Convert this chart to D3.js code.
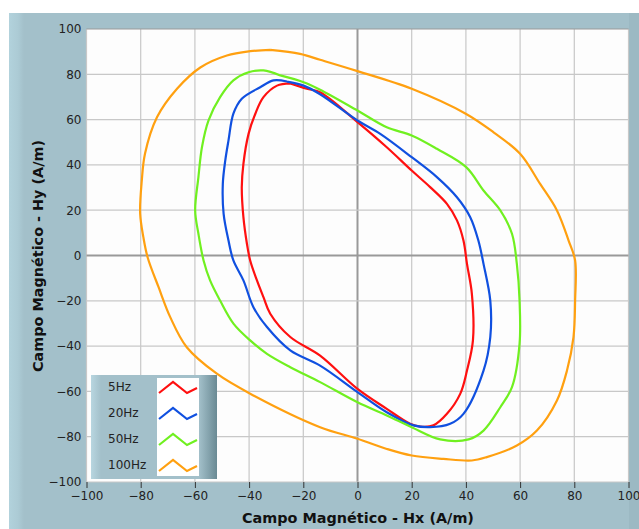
<!DOCTYPE html>
<html><head><meta charset="utf-8">
<script src="https://cdn.jsdelivr.net/npm/d3@7"></script>
<style>html,body{margin:0;padding:0;background:#fff;}svg{display:block;}</style>
</head><body><svg id="c" width="639" height="529"></svg>
<script>
const seriesNames = ["5Hz","20Hz","50Hz","100Hz"];
const seriesColors = ["#ff1010","#1050e0","#70f020","#ffa010"];
const xTicks = [-100,-80,-60,-40,-20,0,20,40,60,80,100];
const yTicks = [-100,-80,-60,-40,-20,0,20,40,60,80,100];
const loop5Hz = [[-24.8,76],[-29.7,75],[-34.7,69.9],[-37.7,62.6],[-40.2,53.7],[-42.1,40.5],[-42.7,30.2],[-42.1,16.9],[-40.8,5.2],[-39.6,-2.2],[-37.1,-11],[-34.7,-18.4],[-32.2,-25.7],[-24.8,-36],[-13.8,-44.2],[0,-58.9],[10.8,-67.7],[19.4,-74.3],[23.1,-75.5],[28,-75],[33,-69.9],[37.9,-61.1],[40.4,-50.8],[42.6,-37.5],[42.2,-16.9],[40.4,-3.7],[39.1,6.6],[36.7,15.5],[33,22.8],[26.8,30.2],[20,37.5],[10.8,47.8],[0,58.9],[-13.8,72.1],[-18.7,73.6],[-24.8,76]];
const loop20Hz = [[-26,76.8],[-31,77.3],[-35.9,74.3],[-42.7,69.2],[-45.8,62.6],[-47.6,50.8],[-48.8,41.9],[-49.7,31.6],[-49.4,18.4],[-47.6,6.6],[-45.8,-2.2],[-42.1,-11],[-38.4,-22.8],[-33.4,-31.6],[-24.8,-41.9],[-13.8,-48.6],[0,-60.3],[10.8,-69.2],[20.7,-75],[26.8,-75.8],[34.2,-74.3],[39.1,-69.9],[46.5,-50.8],[49,-36],[49,-19.9],[46.5,-3.7],[44.6,6.6],[41.6,16.9],[36.7,25.7],[29.3,34.6],[20,43.4],[8.4,53.7],[0,59.6],[-13.8,71.2],[-19.9,75],[-26,76.8]];
const loop50Hz = [[-28.5,79.5],[-34.7,81.7],[-40.2,80.9],[-45.8,77.3],[-50.7,69.9],[-55,59.6],[-57.4,47.8],[-58.7,34.6],[-59.9,19.9],[-58.7,9.6],[-56.8,-2.2],[-54.4,-11],[-50.7,-19.9],[-45.7,-30.2],[-39.6,-37.5],[-33.4,-43.4],[-24.8,-49.3],[-13.8,-55.9],[0,-64.8],[10.8,-70.6],[20,-75.8],[30.5,-81.2],[41,-81.2],[46.5,-77.3],[52.7,-67],[57,-58.1],[59.8,-39],[59.8,-19.9],[58.8,-3.7],[57,9.6],[52.7,19.9],[46.5,28.7],[40.1,39],[29.3,47.1],[20,53],[10.8,56.6],[0,64],[-13.8,73.2],[-19.9,76.5],[-28.5,79.5]];
const loop100Hz = [[-32.2,90.8],[-39.6,90.2],[-48.2,88.3],[-58,83],[-66.6,73.6],[-74,61],[-78.4,45],[-79.6,33],[-80.2,18.5],[-79,8],[-77.4,-1],[-73.4,-14],[-69.1,-27.2],[-63,-40.5],[-51.9,-52.2],[-39.6,-61],[-13.8,-75.8],[0,-80.9],[10.8,-85.4],[20,-88.3],[31.7,-89.8],[42.2,-90.5],[47.7,-89],[58.8,-83.9],[66.2,-77.3],[73.6,-64],[77.3,-50.8],[79.7,-36],[80.3,-19.9],[80.3,-2.2],[77.9,6.6],[73.6,19.9],[67.4,31.6],[60,44.9],[50.2,54.4],[40.1,62.5],[20,73.6],[0,81.4],[-13.8,86.4],[-21.2,89],[-32.2,90.8]];
const loops = [loop5Hz, loop20Hz, loop50Hz, loop100Hz];

const FONT = "'DejaVu Sans', Verdana, sans-serif";
const svg = d3.select("#c");
const defs = svg.append("defs");
const lg = defs.append("linearGradient").attr("id","leftStrip").attr("x1","0").attr("x2","1");
lg.append("stop").attr("offset","0").attr("stop-color","#b2d2dc");
lg.append("stop").attr("offset","0.6").attr("stop-color","#accbd5");
lg.append("stop").attr("offset","1").attr("stop-color","#a3c0ca");
const lgR = defs.append("linearGradient").attr("id","legR").attr("x1","0").attr("x2","1");
lgR.append("stop").attr("offset","0").attr("stop-color","#a3c0ca");
lgR.append("stop").attr("offset","1").attr("stop-color","#6a8a94");
const lgL = defs.append("linearGradient").attr("id","legL").attr("x1","0").attr("x2","1");
lgL.append("stop").attr("offset","0").attr("stop-color","#b8d6e0");
lgL.append("stop").attr("offset","1").attr("stop-color","#a3c0ca");

// frame
svg.append("rect").attr("x",9).attr("y",13).attr("width",630).attr("height",516).attr("fill","#a3c0ca");
svg.append("rect").attr("x",9).attr("y",13).attr("width",15).attr("height",516).attr("fill","url(#leftStrip)");
svg.append("rect").attr("x",629).attr("y",13).attr("width",10).attr("height",516).attr("fill","#9cb9c3");

const x = d3.scaleLinear().domain([-100,100]).range([86.5,628.5]);
const y = d3.scaleLinear().domain([-100,100]).range([482,29]);

svg.append("rect").attr("x",x(-100)).attr("y",y(100)).attr("width",x(100)-x(-100)).attr("height",y(-100)-y(100)).attr("fill","#fdfdfd");

// grid
const g = svg.append("g");
g.selectAll(".gx").data(xTicks).join("line")
  .attr("x1",d=>x(d)).attr("x2",d=>x(d)).attr("y1",y(100)).attr("y2",y(-100))
  .attr("stroke",d=>d===0?"#999":"#c8c8c8").attr("stroke-width",d=>d===0?2:1.2);
g.selectAll(".gy").data(yTicks).join("line")
  .attr("y1",d=>y(d)).attr("y2",d=>y(d)).attr("x1",x(-100)).attr("x2",x(100))
  .attr("stroke",d=>d===0?"#999":(d===100?"#999":"#c8c8c8")).attr("stroke-width",d=>d===0?2:1.2);

// curves
const line = d3.line().x(d=>x(d[0])).y(d=>y(d[1])).curve(d3.curveCatmullRom.alpha(0.5));
svg.append("g").selectAll("path").data(loops).join("path")
  .attr("d",line).attr("fill","none")
  .attr("stroke",(d,i)=>seriesColors[i]).attr("stroke-width",2.2).attr("stroke-linejoin","round");

// axes
const xAxis = d3.axisBottom(x).tickValues(xTicks).tickSize(6).tickPadding(3).tickFormat(d3.format("d"));
const xa = svg.append("g").attr("transform",`translate(0,${y(-100)})`).call(xAxis);
xa.select(".domain").remove();
xa.selectAll("line").attr("stroke","#333");
xa.selectAll("text").attr("fill","#222").style("font-family",FONT).style("font-size","12px");
const yAxis = d3.axisLeft(y).tickValues(yTicks).tickSize(0).tickPadding(5).tickFormat(d3.format("d"));
const ya = svg.append("g").attr("transform",`translate(${x(-100)},0)`).call(yAxis);
ya.select(".domain").remove();
ya.selectAll("text").attr("fill","#222").style("font-family",FONT).style("font-size","12px");

svg.append("text").attr("x",358).attr("y",523).attr("text-anchor","middle")
  .style("font-family",FONT).style("font-size","14.4px").style("font-weight","bold").attr("fill","#111")
  .text("Campo Magnético - Hx (A/m)");
svg.append("text").attr("transform","translate(43,256) rotate(-90)").attr("text-anchor","middle")
  .style("font-family",FONT).style("font-size","14.4px").style("font-weight","bold").attr("fill","#111")
  .text("Campo Magnético - Hy (A/m)");

// legend
const leg = svg.append("g");
leg.append("rect").attr("x",91).attr("y",375).attr("width",126).attr("height",104).attr("fill","#a3c0ca");
leg.append("rect").attr("x",91).attr("y",375).attr("width",10).attr("height",104).attr("fill","url(#legL)");
leg.append("rect").attr("x",199).attr("y",375).attr("width",18).attr("height",104).attr("fill","url(#legR)");
leg.append("rect").attr("x",157).attr("y",378).attr("width",42).attr("height",98).attr("fill","#ffffff");
const rowY = [387,413,439,465];
const zig = [[0,6],[14,-5],[28,6],[38,1]];
seriesNames.forEach((n,i)=>{
  leg.append("text").attr("x",108).attr("y",rowY[i]).attr("dy","0.35em")
    .style("font-family",FONT).style("font-size","12px").attr("fill","#222").text(n);
  leg.append("path").attr("d",d3.line()(zig.map(p=>[159+p[0],rowY[i]+p[1]])))
    .attr("fill","none").attr("stroke",seriesColors[i]).attr("stroke-width",2.2);
});
</script></body></html>
